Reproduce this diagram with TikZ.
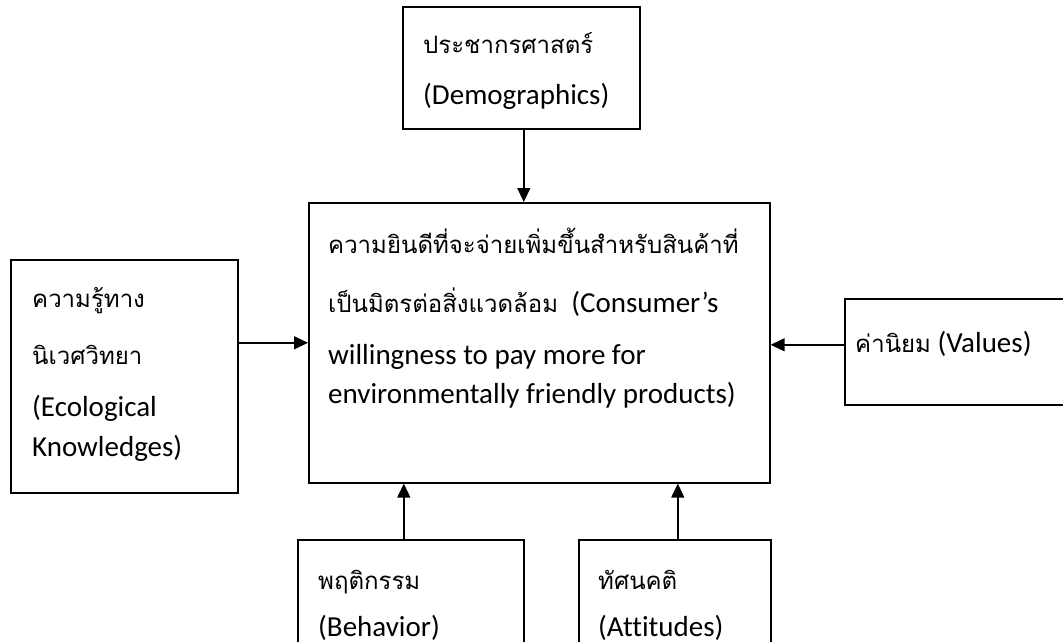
\documentclass[tikz,border=0pt]{standalone}
\usepackage{fontspec}
\setmainfont{Carlito}[Ligatures=NoCommon]
\newfontfamily\thaifont[Script=Thai]{Loma}
\usetikzlibrary{arrows.meta}
\newcommand{\thtxt}[1]{{\thaifont\fontsize{24}{28}\selectfont #1}}
\tikzset{
  box/.style={draw, line width=1.6pt, minimum width=#1, inner sep=0pt},
  txt/.style={anchor=base west, inner sep=0pt, font=\fontsize{29}{34}\selectfont},
  arr/.style={line width=1.4pt, -{Triangle[length=14pt,width=13pt]}},
}
\begin{document}
\begin{tikzpicture}[x=1pt,y=-1pt]
\useasboundingbox (0,0) rectangle (1063,642);
\clip (0,0) rectangle (1063,642);
% boxes
\node[box=237pt, minimum height=122pt, anchor=north west] (top) at (402,6) {};
\node[box=461pt, minimum height=280pt, anchor=north west] (cen) at (308,202) {};
\node[box=227pt, minimum height=233pt, anchor=north west] (lft) at (10,259) {};
\node[box=230pt, minimum height=106pt, anchor=north west] (rgt) at (844,298) {};
\node[box=226pt, minimum height=120pt, anchor=north west] (bl) at (297,539) {};
\node[box=192pt, minimum height=120pt, anchor=north west] (br) at (578,539) {};
% texts
\node[txt] (t1) at (423,54) {\thtxt{ประชากรศาสตร์}};
\node[txt] (t2) at (423,104) {(Demographics)};
\node[txt] (c1) at (328,253) {\thtxt{ความยินดีที่จะจ่ายเพิ่มขึ้นสำหรับสินค้าที่}};
\node[txt] (c2) at (328,312) {\thtxt{เป็นมิตรต่อสิ่งแวดล้อม}\ \ (Consumer’s};
\node[txt] (c3) at (328,364) {willingness to pay more for};
\node[txt] (c4) at (328,403) {environmentally friendly products)};
\node[txt] (l1) at (32,307) {\thtxt{ความรู้ทาง}};
\node[txt] (l2) at (32,364) {\thtxt{นิเวศวิทยา}};
\node[txt] (l3) at (32,416) {(Ecological};
\node[txt] (l4) at (32,456) {Knowledges)};
\node[txt] (r1) at (855,352) {\thtxt{ค่านิยม} (Values)};
\node[txt] (b1) at (318,589) {\thtxt{พฤติกรรม}};
\node[txt] (b2) at (318,636) {(Behavior)};
\node[txt] (b3) at (598,589) {\thtxt{ทัศนคติ}};
\node[txt] (b4) at (598,636) {(Attitudes)};
% arrows
\draw[arr] ([xshift=2.5pt]top.south) -- ([xshift=2.5pt]top.south |- cen.north);
\draw[arr] (lft.east |- cen.west) -- (cen.west);
\draw[arr] ([yshift=-2pt]rgt.west |- cen.east) -- ([yshift=-2pt]cen.east);
\draw[arr] ([xshift=-7pt]bl.north) -- ([xshift=-7pt]bl.north |- cen.south);
\draw[arr] ([xshift=3pt]br.north) -- ([xshift=3pt]br.north |- cen.south);
\end{tikzpicture}
\end{document}
